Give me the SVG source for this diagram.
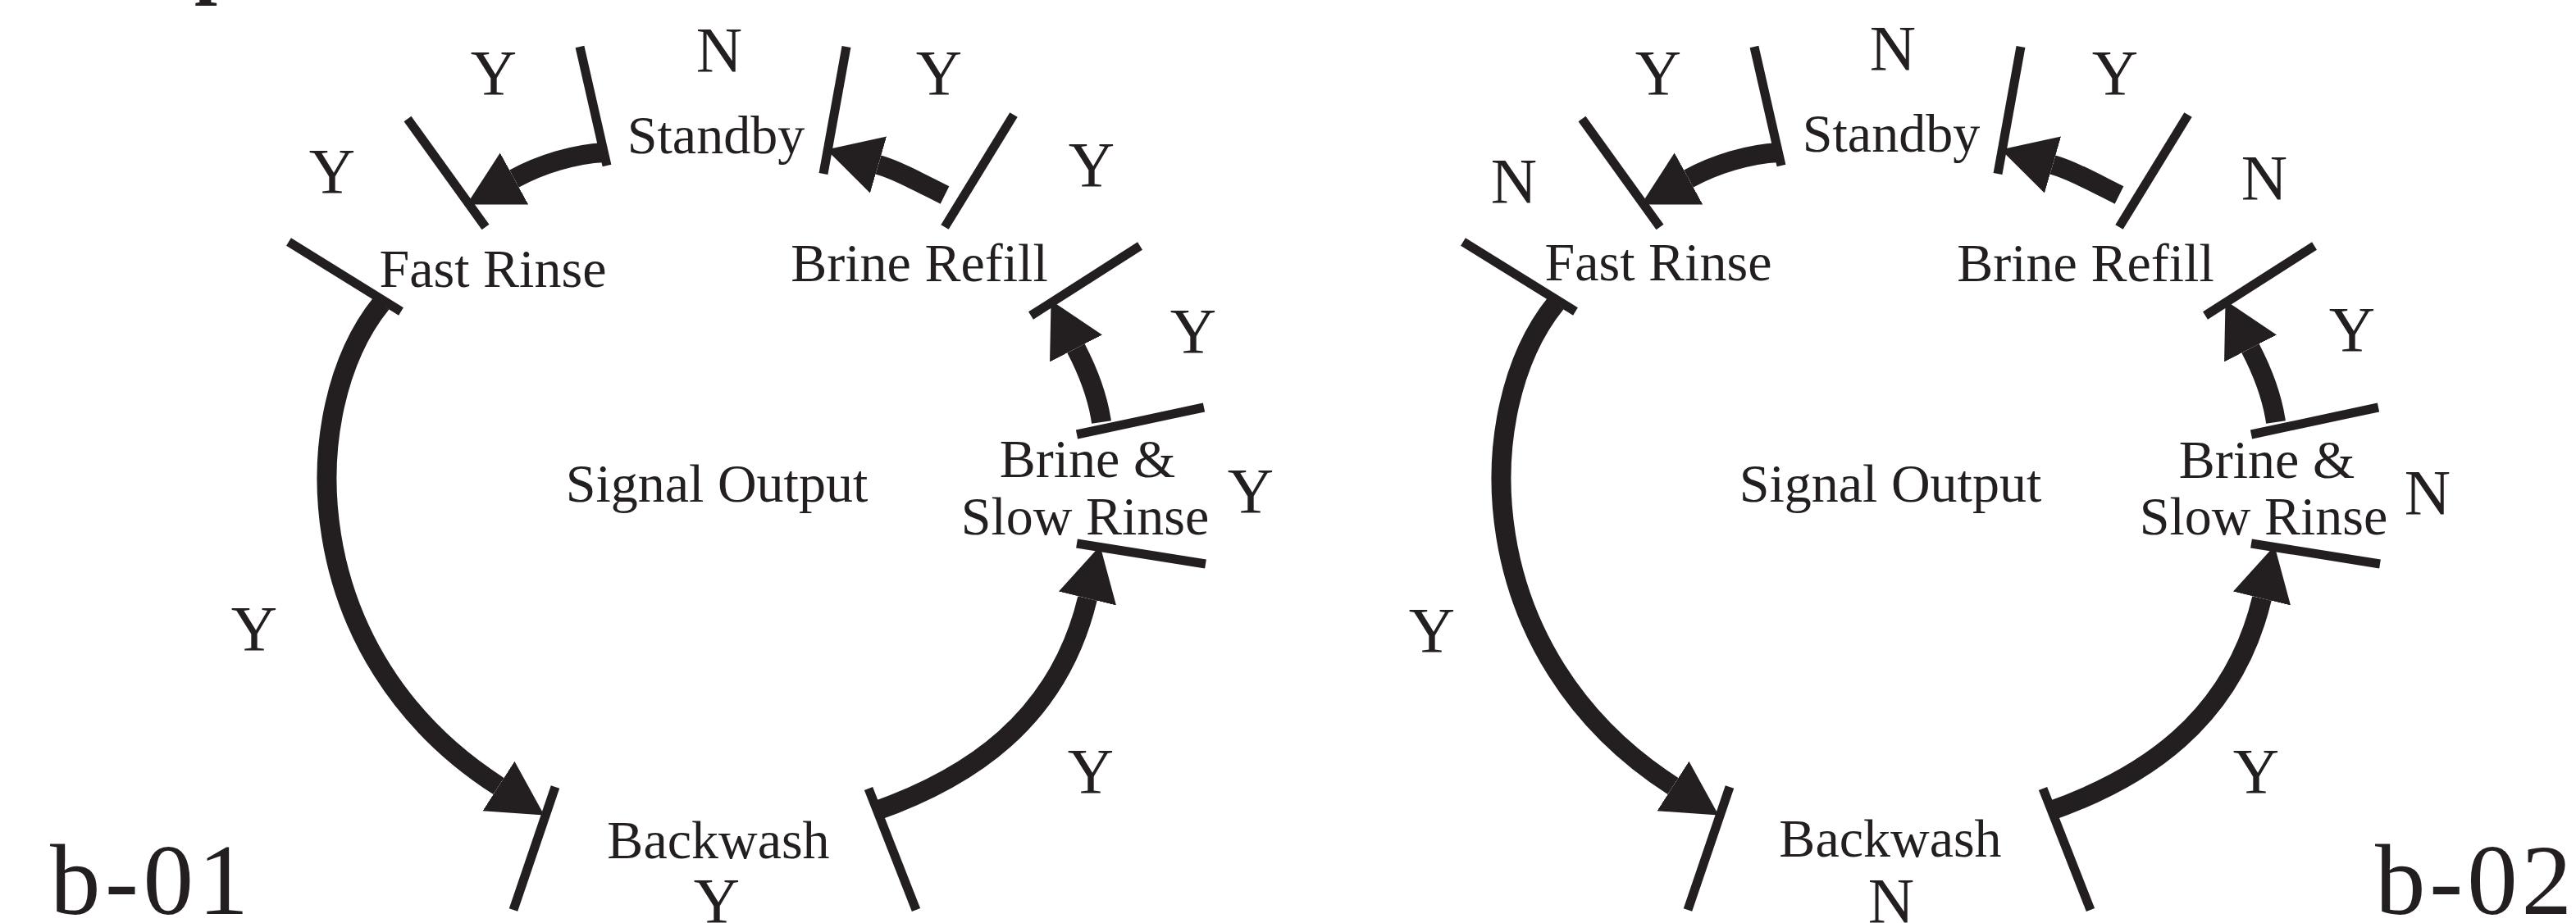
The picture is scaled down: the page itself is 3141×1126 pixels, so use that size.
<svg xmlns="http://www.w3.org/2000/svg" width="3141" height="1126" viewBox="0 0 3141 1126">
<style>
  text { font-family: "Liberation Serif", "Times New Roman", serif; fill: #231f20; text-anchor: middle; }
  .st { font-size: 66px; }
  .lb { font-size: 78px; }
  .fig { font-size: 123px; text-anchor: start; }
  .tk { stroke: #231f20; stroke-width: 11; fill: none; }
  .sh { stroke: #231f20; stroke-width: 24; fill: none; }
</style>
<defs>
  <marker id="head" markerUnits="userSpaceOnUse" viewBox="0 -40 70 80" refX="0" refY="0" markerWidth="70" markerHeight="80" orient="auto">
    <path d="M0,-36 L66,0 L0,36 Z" fill="#231f20"/>
  </marker>
</defs>
<rect width="3141" height="1126" fill="#ffffff"/>
<text x="237" y="-14" style="font-size:100px;font-weight:bold;text-anchor:start">p</text>

<!-- ============ b-01 ============ -->
<g id="b01">
  <g id="b01-standby">
    <line class="tk" x1="707" y1="57" x2="740" y2="202"/>
    <line class="tk" x1="1032" y1="57" x2="1004" y2="212"/>
    <text class="st" x="873" y="187">Standby</text>
  </g>
  <g id="b01-fast-rinse">
    <line class="tk" x1="497" y1="145" x2="592" y2="277"/>
    <line class="tk" x1="352" y1="295" x2="489" y2="380"/>
    <text class="st" x="601" y="350">Fast Rinse</text>
  </g>
  <g id="b01-brine-refill">
    <line class="tk" x1="1236" y1="140" x2="1152" y2="277"/>
    <line class="tk" x1="1257" y1="385" x2="1390" y2="300"/>
    <text class="st" x="1121" y="343">Brine Refill</text>
  </g>
  <g id="b01-brine-slow-rinse">
    <line class="tk" x1="1313" y1="530" x2="1468" y2="497"/>
    <line class="tk" x1="1313" y1="663" x2="1470" y2="688"/>
    <text class="st" x="1326" y="582">Brine &amp;</text>
    <text class="st" x="1323" y="652">Slow Rinse</text>
  </g>
  <g id="b01-backwash">
    <line class="tk" x1="677" y1="960" x2="626" y2="1110"/>
    <line class="tk" x1="1059" y1="962" x2="1117" y2="1110"/>
    <text class="st" x="876" y="1047">Backwash</text>
  </g>
  <g id="b01-signal-output">
    <text class="st" x="874" y="612">Signal Output</text>
  </g>
  <g id="b01-connectors">
    <path class="sh" d="M737,186 C700,188 660,200 627,218" marker-end="url(#head)"/>
    <path class="sh" d="M1152,238 C1120,222 1095,208 1071,201" marker-end="url(#head)"/>
    <path class="sh" d="M1343,515 C1338,480 1325,450 1312,425" marker-end="url(#head)"/>
    <path class="sh" d="M465,370 C360,500 360,800 608,959" marker-end="url(#head)"/>
    <path class="sh" d="M1066,990 C1180,950 1290,880 1326,730" marker-end="url(#head)"/>
  </g>
  <g id="b01-labels">
    <text class="lb" x="602" y="115">Y</text>
    <text class="lb" x="877" y="87">N</text>
    <text class="lb" x="1145" y="115">Y</text>
    <text class="lb" x="405" y="235">Y</text>
    <text class="lb" x="1331" y="227">Y</text>
    <text class="lb" x="1455" y="430">Y</text>
    <text class="lb" x="1525" y="625">Y</text>
    <text class="lb" x="310" y="793">Y</text>
    <text class="lb" x="1330" y="967">Y</text>
    <text class="lb" x="874" y="1125">Y</text>
  </g>
  <text class="fig" x="61" y="1115" textLength="242">b-01</text>
</g>

<!-- ============ b-02 ============ -->
<g id="b02">
  <g id="b02-standby">
    <line class="tk" x1="2139" y1="57" x2="2172" y2="202"/>
    <line class="tk" x1="2464" y1="57" x2="2436" y2="212"/>
    <text class="st" x="2306" y="185">Standby</text>
  </g>
  <g id="b02-fast-rinse">
    <line class="tk" x1="1929" y1="145" x2="2024" y2="277"/>
    <line class="tk" x1="1784" y1="295" x2="1921" y2="380"/>
    <text class="st" x="2022" y="342">Fast Rinse</text>
  </g>
  <g id="b02-brine-refill">
    <line class="tk" x1="2668" y1="140" x2="2584" y2="277"/>
    <line class="tk" x1="2689" y1="385" x2="2822" y2="300"/>
    <text class="st" x="2543" y="343">Brine Refill</text>
  </g>
  <g id="b02-brine-slow-rinse">
    <line class="tk" x1="2745" y1="530" x2="2900" y2="497"/>
    <line class="tk" x1="2745" y1="663" x2="2902" y2="688"/>
    <text class="st" x="2764" y="583">Brine &amp;</text>
    <text class="st" x="2760" y="652">Slow Rinse</text>
  </g>
  <g id="b02-backwash">
    <line class="tk" x1="2109" y1="960" x2="2058" y2="1110"/>
    <line class="tk" x1="2491" y1="962" x2="2549" y2="1110"/>
    <text class="st" x="2305" y="1045">Backwash</text>
  </g>
  <g id="b02-signal-output">
    <text class="st" x="2305" y="612">Signal Output</text>
  </g>
  <g id="b02-connectors">
    <path class="sh" d="M2169,186 C2132,188 2092,200 2059,218" marker-end="url(#head)"/>
    <path class="sh" d="M2584,238 C2552,222 2527,208 2503,201" marker-end="url(#head)"/>
    <path class="sh" d="M2775,515 C2770,480 2757,450 2744,425" marker-end="url(#head)"/>
    <path class="sh" d="M1897,370 C1792,500 1792,800 2040,959" marker-end="url(#head)"/>
    <path class="sh" d="M2498,990 C2612,950 2722,880 2758,730" marker-end="url(#head)"/>
  </g>
  <g id="b02-labels">
    <text class="lb" x="2022" y="115">Y</text>
    <text class="lb" x="2308" y="85">N</text>
    <text class="lb" x="2579" y="115">Y</text>
    <text class="lb" x="1846" y="247">N</text>
    <text class="lb" x="2761" y="243">N</text>
    <text class="lb" x="2868" y="428">Y</text>
    <text class="lb" x="2960" y="627">N</text>
    <text class="lb" x="1746" y="795">Y</text>
    <text class="lb" x="2751" y="967">Y</text>
    <text class="lb" x="2306" y="1125">N</text>
  </g>
  <text class="fig" x="2896" y="1115" textLength="240">b-02</text>
</g>
</svg>
